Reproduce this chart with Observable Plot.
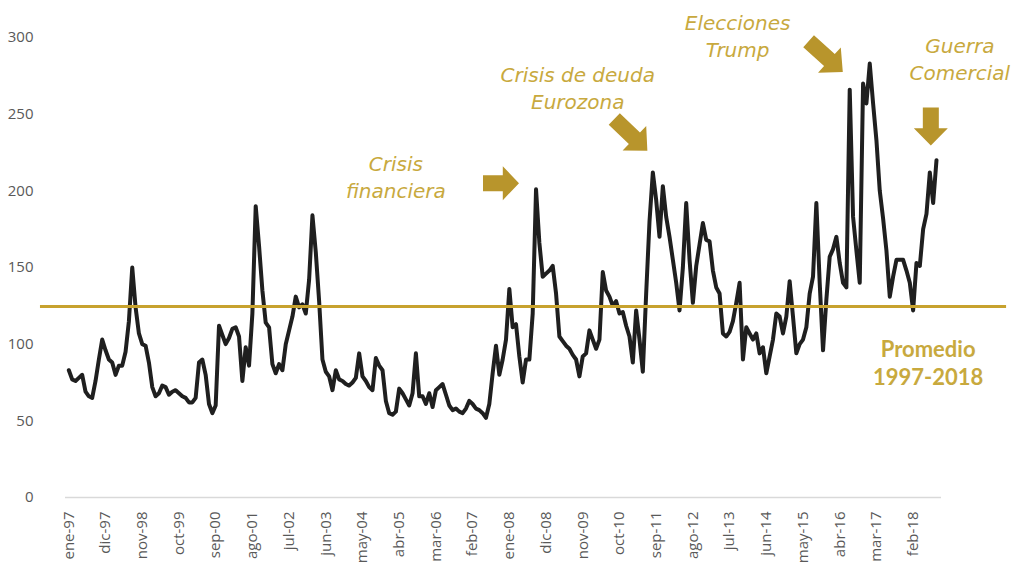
<!DOCTYPE html>
<html>
<head>
<meta charset="utf-8">
<script src="https://cdn.jsdelivr.net/npm/d3@7"></script>
<script src="https://cdn.jsdelivr.net/npm/@observablehq/plot@0.6"></script>
<style>
  html, body { margin: 0; padding: 0; background: #fff; }
  #chart svg { overflow: visible; }
</style>
</head>
<body>
<div id="chart"></div>
<script>
// Monthly index values, ene-97 ... sep-18 (one row per year)
const values = [
  83,77,76,78,80,69,66,65,76,90,103,96,          // 1997
  90,88,80,86,86,95,115,150,124,107,100,99,      // 1998
  88,72,66,68,73,72,67,69,70,68,66,65,           // 1999
  62,62,65,88,90,80,61,55,60,112,106,100,        // 2000
  104,110,111,105,76,98,86,120,190,164,135,114,  // 2001
  111,87,81,87,83,100,109,118,131,124,126,120,   // 2002
  142,184,160,128,90,82,79,70,83,77,76,74,       // 2003
  73,75,78,94,79,76,72,70,91,86,83,63,           // 2004
  55,54,56,71,68,64,60,68,94,66,66,61,           // 2005
  68,59,70,72,74,67,60,57,58,56,55,58,           // 2006
  63,61,58,57,55,52,61,81,99,80,90,103,          // 2007
  136,111,113,92,75,90,90,120,201,166,144,146,   // 2008
  148,151,133,105,102,99,97,93,90,79,92,94,      // 2009
  109,103,97,103,147,135,131,125,128,120,121,112,// 2010
  105,88,122,103,82,133,180,212,194,170,203,183, // 2011
  170,155,140,122,150,192,155,127,151,165,179,168,// 2012
  167,148,137,133,107,105,108,115,127,140,90,111,// 2013
  107,103,107,94,98,81,92,103,120,118,107,118,   // 2014
  141,118,94,100,103,111,133,144,192,140,96,129, // 2015
  157,162,170,153,140,137,266,183,161,140,270,257,// 2016
  283,257,233,200,182,161,131,144,155,155,155,148,// 2017
  140,122,153,151,175,185,212,192,220            // 2018
];
const average = 124.5;

const tickLabels = ["ene-97","dic-97","nov-98","oct-99","sep-00","ago-01","jul-02","jun-03",
  "may-04","abr-05","mar-06","feb-07","ene-08","dic-08","nov-09","oct-10","sep-11","ago-12",
  "jul-13","jun-14","may-15","abr-16","mar-17","feb-18"];
const tickStep = 11; // months between labels
const yTicks = [0, 50, 100, 150, 200, 250, 300];

const annotations = [
  {m: 98,  v: 210, text: "Crisis\nfinanciera"},
  {m: 152.5, v: 268, text: "Crisis de deuda\nEurozona"},
  {m: 200.4, v: 302, text: "Elecciones\nTrump"},
  {m: 267, v: 286.5, text: "Guerra\nComercial"}
];
const arrows = [
  {m: 129.5, v: 205, rotate: 90, len: 36},
  {m: 168.4, v: 236.5, rotate: 134, len: 46},
  {m: 226.8, v: 287.5, rotate: 132, len: 46},
  {m: 258.3, v: 242, rotate: 180, len: 38}
];

const data = values.map((v, i) => ({m: i, v}));
const tickMonths = tickLabels.map((_, i) => i * tickStep);

const blockArrow = {
  draw(context, l) {
    const sw = 8, hw = 17, hl = Math.min(18, l * 0.45);
    context.moveTo(-sw, 0);
    context.lineTo(-sw, -(l - hl));
    context.lineTo(-hw, -(l - hl));
    context.lineTo(0, -l);
    context.lineTo(hw, -(l - hl));
    context.lineTo(sw, -(l - hl));
    context.lineTo(sw, 0);
    context.closePath();
  }
};

const gold = "#C7A22E";
const textGold = "#C8A93E";

const chart = Plot.plot({
  width: 1019,
  height: 583,
  marginLeft: 65,
  marginRight: 78,
  marginTop: 37,
  marginBottom: 86,
  style: {fontFamily: "'Open Sans', sans-serif", fontSize: "15px", color: "#595959", background: "#fff"},
  x: {
    domain: [-1, 261.5],
    ticks: tickMonths,
    tickFormat: (d) => tickLabels[Math.round(d / tickStep)],
    tickRotate: -90,
    tickSize: 0,
    tickPadding: 14,
    label: null
  },
  y: {
    domain: [0, 300],
    ticks: yTicks,
    tickSize: 0,
    tickPadding: 32,
    label: null
  },
  length: {type: "identity"},
  marks: [
    Plot.ruleY([0], {stroke: "#d9d9d9", strokeWidth: 1.5}),
    Plot.lineY(data, {x: "m", y: "v", stroke: "#1f1f1f", strokeWidth: 4, strokeLinejoin: "round", strokeLinecap: "round"}),
    Plot.ruleY([average], {x1: -8.5, x2: 281, stroke: gold, strokeWidth: 3}),
    Plot.text(annotations, {
      x: "m", y: "v", text: "text",
      fontSize: 20, fontStyle: "italic", fill: textGold,
      fontFamily: "'DejaVu Sans', sans-serif",
      lineHeight: 1.35
    }),
    Plot.text(["Promedio\n1997-2018"], {
      x: 257.5, y: 88.5, text: (d) => d,
      fontSize: 22, fontWeight: "bold", fill: textGold,
      fontFamily: "Lato, sans-serif",
      lineHeight: 1.3
    }),
    Plot.vector(arrows, {
      x: "m", y: "v", rotate: "rotate", length: "len",
      anchor: "middle", shape: blockArrow,
      fill: "#B8952C", stroke: "none"
    })
  ]
});
document.getElementById("chart").appendChild(chart);
</script>
</body>
</html>
